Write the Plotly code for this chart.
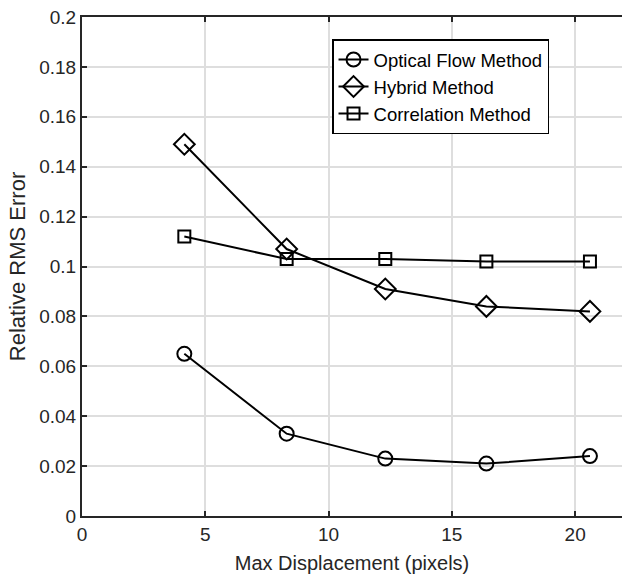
import plotly.graph_objects as go

# Maximum displacement (pixels) for each test case
max_disp = [4.15, 8.3, 12.3, 16.4, 20.6]

# Relative RMS error of each method
optical_flow = [0.065, 0.033, 0.023, 0.021, 0.024]
hybrid = [0.149, 0.107, 0.091, 0.084, 0.082]
correlation = [0.112, 0.103, 0.103, 0.102, 0.102]

series = [
    ("Optical Flow Method", optical_flow, "circle-open", 14),
    ("Hybrid Method", hybrid, "diamond-open", 16),
    ("Correlation Method", correlation, "square-open", 12),
]

y_ticks = [round(0.02 * i, 2) for i in range(11)]
y_tick_text = ["0", "0.02", "0.04", "0.06", "0.08", "0.1", "0.12", "0.14", "0.16", "0.18", "0.2"]

fig = go.Figure()
for name, vals, symbol, size in series:
    fig.add_trace(go.Scatter(
        x=max_disp, y=vals, name=name, mode="lines+markers",
        line=dict(color="black", width=2),
        marker=dict(symbol=symbol, size=size, color="black",
                    line=dict(color="black", width=2)),
    ))

axis_color = "#262626"
family = "Liberation Sans, Arial, sans-serif"

fig.update_layout(
    width=622, height=576,
    margin=dict(l=82, r=0, t=17, b=60),
    paper_bgcolor="white", plot_bgcolor="white",
    font=dict(family=family, size=19, color=axis_color),
    showlegend=True,
    legend=dict(
        x=0.463, y=0.955, xanchor="left", yanchor="top",
        bgcolor="white", bordercolor="black", borderwidth=1.5,
        font=dict(family=family, size=18.5, color="black"),
        tracegroupgap=0,
    ),
    xaxis=dict(
        range=[0, 21.9], tickvals=[0, 5, 10, 15, 20],
        ticks="inside", ticklen=5, tickwidth=1.5, tickcolor=axis_color,
        showline=True, linecolor=axis_color, linewidth=2, mirror="ticks",
        showgrid=True, gridcolor="#dedede", gridwidth=1.5, zeroline=False,
        title=dict(text="Max Displacement (pixels)", standoff=12,
                   font=dict(family=family, size=20, color=axis_color)),
        tickfont=dict(family=family, size=19, color=axis_color),
    ),
    yaxis=dict(
        range=[0, 0.2], tickvals=y_ticks, ticktext=y_tick_text,
        ticks="inside", ticklen=5, tickwidth=1.5, tickcolor=axis_color,
        showline=True, linecolor=axis_color, linewidth=2,
        showgrid=True, gridcolor="#dedede", gridwidth=1.5, zeroline=False,
        title=dict(text="Relative RMS Error", standoff=8,
                   font=dict(family=family, size=22, color=axis_color)),
        tickfont=dict(family=family, size=19, color=axis_color),
    ),
)

fig.write_html("out.html")
